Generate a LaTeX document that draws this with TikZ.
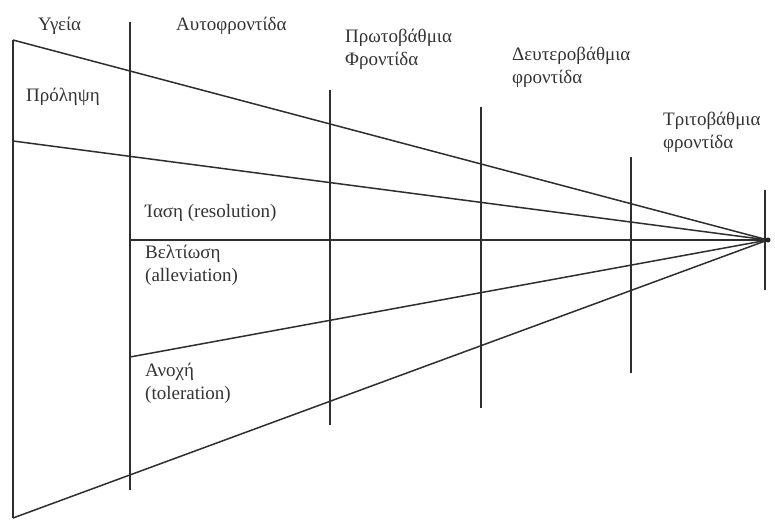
\documentclass[tikz,border=0pt]{standalone}
\usepackage{fontspec}
\setmainfont{Liberation Serif}
\begin{document}
\begin{tikzpicture}[x=1pt,y=-1pt,
  ln/.style={line width=1.5pt,draw=black!82},
  lbl/.style={anchor=base west,inner sep=0pt,text=black!80,font=\fontsize{19}{23}\selectfont,align=left}]
\useasboundingbox (0,0) rectangle (775,520);
% apex and endpoints
\coordinate (apex) at (768,240);
\coordinate (L1) at (13,40);
\coordinate (L2) at (13,141);
\coordinate (L5) at (13,518);
\coordinate (M3) at (130,240);
\coordinate (M4) at (130,357);
% verticals
\coordinate (V0t) at (13,40);   \coordinate (V0b) at (13,518);
\coordinate (V1t) at (130,22);  \coordinate (V1b) at (130,490);
\coordinate (V2t) at (330,90);  \coordinate (V2b) at (330,425);
\coordinate (V3t) at (481,107); \coordinate (V3b) at (481,408);
\coordinate (V4t) at (631,157); \coordinate (V4b) at (631,373);
\coordinate (V5t) at (765,190); \coordinate (V5b) at (765,290);
\draw[ln] (V0t) -- (V0b);
\draw[ln] (V1t) -- (V1b);
\draw[ln] (V2t) -- (V2b);
\draw[ln] (V3t) -- (V3b);
\draw[ln] (V4t) -- (V4b);
\draw[ln] (V5t) -- (V5b);
\draw[ln] (L1) -- (apex);
\draw[ln] (L2) -- (apex);
\draw[ln] (M3) -- (apex);
\draw[ln] (M4) -- (apex);
\draw[ln] (L5) -- (apex);
\fill[black!85] (apex) circle (2.5pt);
% labels
\node[lbl] (ygeia) at (38,30) {Υγεία};
\node[lbl] (auto) at (176,30) {Αυτοφροντίδα};
\node[lbl] (prol) at (26,101) {Πρόληψη};
\node[lbl] (prot) at (345,65) {Πρωτοβάθμια\\Φροντίδα};
\node[lbl] (deut) at (512,83) {Δευτεροβάθμια\\φροντίδα};
\node[lbl] (trit) at (663,148) {Τριτοβάθμια\\φροντίδα};
\node[lbl] (iasi) at (145,217) {Ίαση (resolution)};
\node[lbl] (velt) at (145,281) {Βελτίωση\\(alleviation)};
\node[lbl] (anoxi) at (145,399) {Ανοχή\\(toleration)};
\end{tikzpicture}
\end{document}
